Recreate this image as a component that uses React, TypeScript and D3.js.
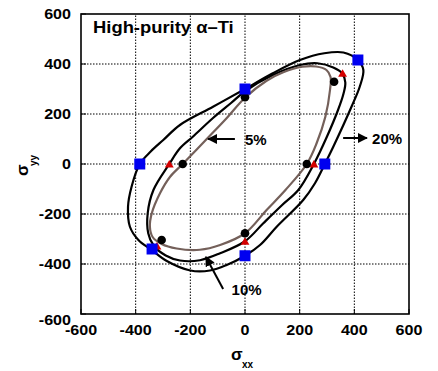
import React from "react";
import * as d3 from "d3";

const W = 438;
const H = 371;

// tick values
const xTicks = [-600, -400, -200, 0, 200, 400, 600];
const yTicks = [-600, -400, -200, 0, 200, 400, 600];

// yield locus at 5% (brown)
const locus5: [number, number][] = [
  [-228, 0], [-140, 100], [-70, 180], [0, 265], [79, 333], [140, 367], [210, 389],
  [260, 390], [298, 376], [313, 348], [311, 296], [294, 189], [262, 83], [226, 0],
  [148, -104], [79, -184], [0, -277], [-91, -324], [-165, -343], [-250, -338],
  [-305, -320], [-338, -292], [-348, -251], [-341, -197], [-311, -117], [-274, -51],
];

// yield locus at 10% (black, middle)
const locus10: [number, number][] = [
  [-277, 0], [-238, 63], [-190, 110], [-117, 184], [-50, 245], [0, 291], [100, 355],
  [201, 396], [265, 403], [323, 386], [355, 363], [367, 326], [360, 280], [340, 215],
  [300, 110], [252, 0], [195, -104], [135, -165], [67, -237],
  [0, -309], [-91, -357], [-165, -385], [-238, -386], [-290, -366], [-335, -325],
  [-354, -277], [-356, -197], [-335, -104],
];

// yield locus at 20% (black, outer)
const locus20: [number, number][] = [
  [-385, 0], [-345, 50], [-299, 96], [-238, 156], [-117, 229], [0, 300], [100, 362],
  [201, 416], [290, 443], [360, 446], [413, 416], [433, 376], [420, 310], [390, 230],
  [323, 69], [292, 0], [256, -77], [213, -144], [116, -251],
  [55, -324], [0, -367], [-67, -404], [-128, -426], [-200, -426], [-286, -388],
  [-341, -344], [-390, -304], [-421, -251], [-428, -171], [-415, -91],
];

// measured points
const dots5: [number, number][] = [[-228, 0], [-305, -304], [0, -277], [226, 0], [326, 329], [0, 267]];
const tri10: [number, number][] = [[-277, 0], [-322, -328], [0, -309], [252, 0], [357, 363]];
const sq20: [number, number][] = [[-385, 0], [-340, -340], [0, -367], [292, 0], [413, 416], [0, 300]];

// annotation labels
const labels = ["5%", "10%", "20%"];

export default function App() {
  const x = d3.scaleLinear().domain([-600, 600]).range([81, 409]);
  const y = d3.scaleLinear().domain([-600, 600]).range([314, 14]);
  const line = d3
    .line<[number, number]>()
    .x((d) => x(d[0]))
    .y((d) => y(d[1]))
    .curve(d3.curveCatmullRomClosed.alpha(0.5));

  const font = "'Liberation Sans', Arial, sans-serif";
  const tri = d3.symbol().type(d3.symbolTriangle).size(34)();

  return (
    <svg width={W} height={H} style={{ position: "absolute", left: 0, top: 0, background: "#fff" }} fontFamily={font}>
      <defs>
        <marker id="ah" viewBox="0 0 10 10" refX="9" refY="5" markerWidth="5" markerHeight="5" orient="auto-start-reverse">
          <path d="M0,0 L10,5 L0,10 z" fill="#000" />
        </marker>
      </defs>
      <rect x={0} y={0} width={W} height={H} fill="#fff" />
      {/* grid */}
      {xTicks.slice(1, -1).map((t) => (
        <line key={"gx" + t} x1={x(t)} x2={x(t)} y1={y(-600)} y2={y(600)} stroke="#000" strokeWidth={1} strokeDasharray="1.5,1.5" />
      ))}
      {yTicks.slice(1, -1).map((t) => (
        <line key={"gy" + t} y1={y(t)} y2={y(t)} x1={x(-600)} x2={x(600)} stroke="#000" strokeWidth={1} strokeDasharray="1.5,1.5" />
      ))}
      {/* ticks */}
      {xTicks.map((t) => (
        <line key={"tx" + t} x1={x(t)} x2={x(t)} y1={y(-600)} y2={y(-600) - 5} stroke="#000" strokeWidth={1} />
      ))}
      {yTicks.map((t) => (
        <line key={"ty" + t} y1={y(t)} y2={y(t)} x1={x(-600)} x2={x(-600) + 5} stroke="#000" strokeWidth={1} />
      ))}
      {/* curves */}
      <path d={line(locus20) || ""} fill="none" stroke="#000" strokeWidth={2.2} />
      <path d={line(locus10) || ""} fill="none" stroke="#000" strokeWidth={2.2} />
      <path d={line(locus5) || ""} fill="none" stroke="#74605a" strokeWidth={2.2} />
      {/* markers */}
      {tri10.map((d, i) => (
        <path key={"t" + i} d={tri || ""} transform={`translate(${x(d[0])},${y(d[1]) + 1})`} fill="#d40000" />
      ))}
      {dots5.map((d, i) => (
        <circle key={"c" + i} cx={x(d[0])} cy={y(d[1])} r={4.3} fill="#000" />
      ))}
      {sq20.map((d, i) => (
        <rect key={"s" + i} x={x(d[0]) - 5.5} y={y(d[1]) - 5.5} width={11} height={11} fill="#0000f0" />
      ))}
      {/* frame */}
      <rect x={x(-600)} y={y(600)} width={x(600) - x(-600)} height={y(-600) - y(600)} fill="none" stroke="#000" strokeWidth={1.6} />
      {/* tick labels */}
      {xTicks.map((t) => (
        <text key={"lx" + t} transform={`translate(${x(t)},335) scale(1.15,1)`} textAnchor="middle" fontSize={14} fontWeight="bold">
          {t}
        </text>
      ))}
      {yTicks.map((t) => (
        <text key={"ly" + t} transform={`translate(71,${y(t) + (t === -600 ? 6 : 0) + 5}) scale(1.15,1)`} textAnchor="end" fontSize={14} fontWeight="bold">
          {t}
        </text>
      ))}
      {/* axis titles */}
      <text x={231} y={360} fontSize={17} fontWeight="bold">σ</text>
      <text x={242} y={368} fontSize={10} fontWeight="bold">xx</text>
      <g transform="translate(28,176) rotate(-90)">
        <text x={0} y={0} fontSize={17} fontWeight="bold">σ</text>
        <text x={10} y={9} fontSize={10} fontWeight="bold">yy</text>
      </g>
      {/* title */}
      <text transform="translate(93,33) scale(1.15,1)" fontSize={16} fontWeight="bold">High-purity α–Ti</text>
      {/* annotations */}
      <line x1={x(-37)} y1={y(100)} x2={x(-135)} y2={y(100)} stroke="#000" strokeWidth={2} markerEnd="url(#ah)" />
      <text x={x(0)} y={y(100) + 5.5} fontSize={15} fontWeight="bold">{labels[0]}</text>
      <line x1={x(-80)} y1={y(-500)} x2={x(-143)} y2={y(-372)} stroke="#000" strokeWidth={2} markerEnd="url(#ah)" />
      <text x={x(-49)} y={y(-500) + 5.5} fontSize={15} fontWeight="bold">{labels[1]}</text>
      <line x1={x(359)} y1={y(104)} x2={x(446)} y2={y(104)} stroke="#000" strokeWidth={2} markerEnd="url(#ah)" />
      <text x={x(465)} y={y(104) + 5.5} fontSize={15} fontWeight="bold">{labels[2]}</text>
    </svg>
  );
}
